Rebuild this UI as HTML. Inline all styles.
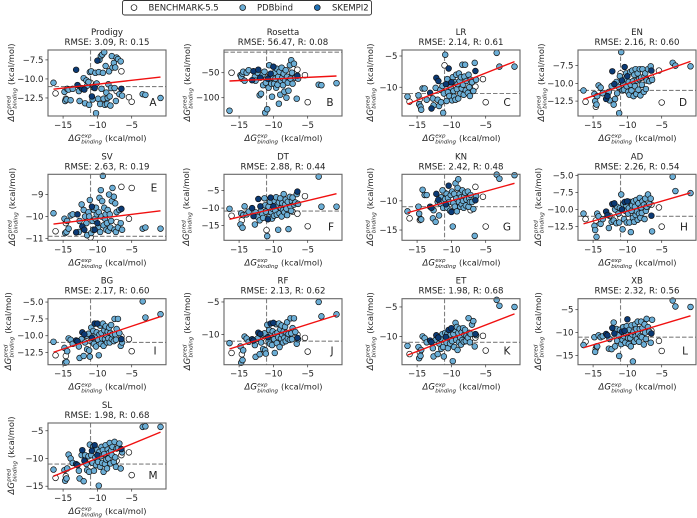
<!DOCTYPE html>
<html lang="en">
<head>
<meta charset="utf-8">
<title>Binding affinity predictors</title>
<style>
html,body{margin:0;padding:0;background:#fff;width:697px;height:518px;overflow:hidden}
svg{display:block;filter:blur(0.3px)}
text{font-family:"DejaVu Sans","Liberation Sans",sans-serif;fill:#222}
</style>
</head>
<body>
<svg id="fig" xmlns="http://www.w3.org/2000/svg" width="697" height="518" viewBox="0 0 697 518">
<g>
<rect x="122.5" y="0.5" width="249" height="14.5" rx="2" fill="#fff" stroke="#333" stroke-width="0.9"/>
<circle cx="134" cy="7.6" r="2.9" fill="#fff" stroke="#111" stroke-width="0.7"/>
<text x="148.5" y="10.6" font-size="8.5">BENCHMARK-5.5</text>
<circle cx="242.7" cy="7.6" r="2.9" fill="#6baed6" stroke="#111" stroke-width="0.7"/>
<text x="257" y="10.6" font-size="8.5">PDBbind</text>
<circle cx="317.3" cy="7.6" r="2.9" fill="#2171b5" stroke="#111" stroke-width="0.7"/>
<text x="332" y="10.6" font-size="8.5">SKEMPI2</text>
</g>
</svg>
<script>
// ---------- shared data: experimental binding energy and source database ----------
const experimental = [-16.4,-16.1,-14.8,-14.7,-14.6,-14.5,-14.4,-14.2,-13.9,-13.6,-13.1,-12.9,-12.7,-12.6,-12.3,-12.2,-12.0,-11.9,-11.8,-11.6,-11.5,-11.3,-11.2,-11.1,-11.0,-10.9,-10.8,-10.7,-10.6,-10.5,-10.4,-10.3,-10.2,-10.1,-10.0,-9.9,-9.8,-9.7,-9.6,-9.5,-9.4,-9.3,-9.2,-9.1,-9.0,-8.9,-8.8,-8.7,-8.6,-8.5,-8.4,-8.3,-8.2,-8.1,-8.0,-7.9,-7.8,-7.2,-7.6,-7.5,-7.4,-7.3,-7.2,-6.5,-7.0,-6.8,-6.6,-6.5,-6.4,-5.4,-5.0,-3.4,-3.0,-0.8];
const sources = ['P','B','P','P','B','P','P','P','P','P','S','S','P','P','P','S','P','S','P','P','P','P','P','P','B','P','S','P','P','P','S','P','P','P','S','P','P','P','P','P','P','P','P','P','P','P','P','P','P','P','P','P','P','P','P','P','P','B','P','P','P','P','P','B','P','P','P','S','P','B','B','P','P','P'];

// ---------- per-model predicted binding energy ----------
const predProdigy = [-10.5,-11.9,-11.7,-12.9,-12.6,-12.7,-11.3,-11.4,-12.8,-11.3,-8.8,-10.8,-11.6,-12.9,-11.2,-11.3,-9.9,-11.4,-13.2,-10.2,-10.9,-10.4,-13.4,-9.1,-10.5,-9.0,-12.3,-12.7,-11.1,-11.0,-11.2,-9.2,-14.5,-10.6,-7.6,-12.6,-9.1,-7.5,-13.3,-7.0,-11.3,-6.8,-9.2,-12.6,-6.5,-13.4,-8.3,-11.8,-13.3,-12.5,-10.7,-9.0,-12.3,-13.5,-11.2,-7.0,-8.5,-11.6,-7.9,-11.2,-8.5,-12.9,-7.2,-9.0,-7.4,-12.0,-7.7,-11.3,-12.2,-12.4,-13.0,-12.0,-12.1,-12.5];
const predRosetta = [-126,-50,-55,-58,-62,-52,-48,-66,-50,-45,-65,-47,-58,-66,-50,-44,-95,-60,-92,-55,-75,-48,-130,-70,-60,-123,-62,-80,-35,-56,-52,-72,-98,-60,-38,-72,-50,-62,-80,-42,-74,-58,-112,-48,-94,-66,-40,-60,-75,-52,-88,-65,-45,-100,-58,-70,-86,-42,-35,-62,-25,-50,-72,-44,-32,-60,-102,-56,-62,-55,-109,-74,-75,-71];
const predLR = [-11.5,-12.3,-11.3,-12.7,-11.9,-13.1,-13.6,-10.2,-10.2,-12.0,-10.9,-13.4,-11.8,-12.9,-10.1,-8.5,-12.0,-9.0,-13.0,-10.4,-12.4,-9.8,-14.1,-11.0,-6.5,-4.8,-9.5,-12.2,-8.7,-10.8,-7.0,-11.4,-9.6,-10.0,-9.2,-12.1,-8.4,-10.6,-11.5,-9.2,-12.0,-8.0,-10.3,-9.5,-11.8,-7.8,-9.0,-11.0,-8.4,-10.2,-6.4,-9.6,-11.2,-8.3,-6.4,-10.5,-9.0,-10.0,-10.9,-8.0,-10.0,-11.4,-8.8,-9.9,-9.2,-10.6,-6.1,-7.4,-8.8,-8.7,-12.4,-4.5,-6.7,-6.7];
const predEN = [-11,-12.6,-11.5,-12.5,-13.3,-13,-11.8,-10.3,-10.6,-11.4,-12.2,-11.8,-11.2,-12.4,-10.4,-8.3,-13,-10.1,-12.2,-9.8,-11.4,-10.5,-14.2,-9.0,-8.6,-5.6,-9.6,-11,-10,-10.9,-7.7,-9.4,-8.6,-10.4,-9,-11.2,-9.8,-11.6,-8.4,-10.2,-11,-8.2,-9.7,-11.8,-8.8,-10.4,-8.0,-11.5,-9.6,-8.6,-10.9,-9.4,-8.0,-11.7,-9.2,-10.2,-8.0,-9.5,-11.2,-9,-8.6,-10.8,-9.6,-9.2,-8.0,-9.7,-7.6,-8.2,-9.5,-8.2,-12.7,-7.1,-7.5,-7.6];
const predSV = [-9.85,-10.67,-10.1,-10.75,-10.3,-10.7,-10.2,-10.55,-9.95,-9.9,-10.72,-9.9,-10.7,-10.2,-9.45,-10.45,-9.7,-10.6,-10.0,-10.3,-10.85,-9.8,-10.0,-9.25,-10.95,-10.75,-9.55,-10.2,-10.6,-9.7,-10.6,-10.1,-9.6,-9.9,-10.3,-10.5,-9.8,-9.15,-10.7,-8.8,-10.0,-9.3,-8.15,-10.4,-9.6,-10.1,-9.9,-10.6,-10.3,-9.7,-10.65,-9.0,-9.9,-10.5,-10.2,-9.3,-8.7,-10.25,-9.1,-10.6,-9.4,-10.7,-9.8,-8.65,-10.5,-9.7,-10.3,-9.65,-10.6,-10.1,-8.7,-10.55,-10.5,-10.55];
const predDT = [-10.2,-12.2,-14.7,-11.5,-13.5,-15.6,-12,-9.5,-11.8,-11,-10,-12.3,-14.7,-11.2,-12.5,-7.4,-13.5,-9.5,-10.8,-11.8,-12.8,-7.2,-9.2,-11,-16.3,-18,-13.2,-9.6,-12.6,-8.2,-7,-11.2,-13,-10.2,-9.5,-12.2,-8,-10.8,-6.9,-11.9,-9,-16.2,-8.4,-11.5,-7.2,-10,-12.4,-8.6,-10.6,-6,-11.2,-9,-7.6,-10.2,-12,-8.2,-16,-11,-6.8,-9.6,-10.8,-8,-7,-11.6,-9,-8.4,-6,-5.3,-8.8,-6.6,-15.2,-1,-9.6,-9.6];
const predKN = [-11.8,-13,-11,-12.2,-13.3,-13.1,-13.2,-8.1,-9,-9,-11,-11.2,-13,-11.6,-13.6,-8.8,-10.2,-9.8,-12.5,-10.5,-9.4,-8.2,-11.2,-10,-8.6,-9.7,-10.6,-8.8,-11.2,-9.5,-7.4,-10.2,-11.7,-9,-11.9,-8.4,-14.4,-10.4,-8.8,-11,-7,-9.6,-11.8,-7.8,-6.3,-10.2,-8.8,-11,-9.4,-10.6,-8.2,-10,-11.2,-9.2,-8.6,-10.8,-9.8,-11.6,-8.4,-11,-9.6,-10.2,-9,-7.6,-10.2,-11.4,-16,-9.9,-9.2,-9.3,-14.4,-5.5,-6.2,-5.6];
const predAD = [-10.6,-11.4,-12.4,-13,-11.6,-14,-10.6,-11,-12.1,-11.4,-10.3,-10.8,-12.7,-10.9,-11.8,-9.2,-11.6,-9.1,-10,-12,-9.6,-10.6,-11.9,-9.8,-11.2,-7.8,-10,-12.9,-9.2,-11.4,-8.9,-10.2,-9.4,-11.9,-8.8,-10.6,-9.8,-11.9,-8.9,-13.3,-10.2,-9.4,-11.2,-8.8,-11.8,-9.6,-10.8,-8.6,-10.3,-11.5,-9.1,-10.6,-8.3,-11.2,-9.7,-10.5,-8.8,-9.8,-9.3,-11.4,-8.4,-10.2,-9.6,-9.3,-7.8,-9.2,-8.4,-10.9,-13.2,-9.7,-12.5,-5.2,-7.3,-7.6];
const predBG = [-10.9,-12.9,-11.8,-14,-13,-13.9,-12.3,-10.4,-10.6,-11.2,-10.7,-10.8,-11.6,-13.3,-10.5,-9.5,-13,-9.8,-11,-10,-12,-9.7,-12.2,-13.1,-10.8,-8.8,-10.3,-10.9,-9.3,-11.2,-8.2,-10,-11.6,-9.5,-8.2,-10.6,-12.9,-9.8,-8.5,-11.2,-9.6,-10.4,-8.2,-11.5,-9.2,-10.5,-8.6,-9.9,-11,-9.4,-10.4,-8.8,-11,-9.6,-8.4,-10.5,-9.8,-10.2,-10.8,-7.5,-9.8,-10.6,-9,-10.1,-7.5,-9.6,-11.5,-10.5,-11,-10.5,-12.3,-4.9,-7.3,-6.8];
const predRF = [-11.3,-12.8,-11.8,-14.3,-13,-13.9,-12.4,-10.3,-10.6,-11.1,-10.7,-10.9,-11.6,-13.4,-10.6,-9.7,-13,-9.9,-11.2,-10,-12.2,-9.8,-12.4,-12.9,-11,-8.5,-10.4,-11,-9.3,-11.4,-8.3,-10,-11.6,-9.5,-8.2,-10.7,-12.8,-9.9,-8.4,-11.3,-9.7,-10.4,-8.3,-11.9,-9.2,-10.6,-8.6,-10,-11.2,-9.5,-10.5,-8.8,-11,-9.7,-8.1,-10.6,-9.9,-10.3,-10.8,-7.5,-9.8,-10.7,-9,-10,-7.5,-9.6,-11.4,-10.5,-10.7,-10.5,-12.6,-5,-7.2,-6.9];
const predET = [-11.6,-13,-11.8,-13.7,-12.7,-13.3,-12.3,-10,-10.3,-11,-10.7,-11,-12,-13.4,-10.6,-9.8,-13,-10.2,-11.2,-10.4,-12.1,-9.6,-11.8,-13.4,-10.4,-9.4,-10.1,-11.1,-9.6,-12,-8.9,-10.3,-11.2,-9.7,-8.6,-10.8,-14.2,-9.6,-11.8,-8.9,-7.7,-10.6,-8.4,-12.3,-9.4,-11,-8.7,-10.2,-11.4,-9.3,-10.6,-8.6,-10.9,-9.7,-8.9,-10.8,-9.9,-10.4,-10.2,-6.9,-9.4,-11,-9.6,-10.2,-8,-7.4,-11.7,-9.6,-9.8,-9.9,-12.4,-3.8,-4.8,-5];
const predXB = [-12.7,-12,-11,-14.2,-13.5,-13,-13,-10.6,-11,-10.8,-10.3,-10.6,-13.5,-11.4,-13.6,-9,-7.8,-10.2,-13,-9.2,-11.8,-10.6,-15.1,-9.4,-10.5,-12.5,-9.8,-11.6,-8.8,-10.8,-9.6,-12.2,-10.2,-8.6,-7.1,-11.2,-12.5,-9.4,-11.2,-13,-8.4,-10.4,-16.3,-9.8,-12,-8.2,-10.8,-9.2,-11.4,-7.6,-10.3,-12,-9.2,-10.8,-7.6,-11,-9,-10.4,-12.6,-8.2,-10,-11.4,-7,-9.6,-8.8,-9.8,-12.2,-10.2,-7.2,-11.8,-14,-3,-4.3,-4.4];
const predSL = [-12,-13.5,-12.1,-14,-13.2,-13.6,-11.8,-9.3,-10,-10.8,-11,-11.2,-12.2,-13.6,-9.4,-8.5,-14.1,-10.4,-9.4,-11,-12.1,-9.6,-12.4,-7.5,-10.2,-9.4,-8.6,-10.8,-7.8,-12.2,-7.6,-9.8,-11.2,-8.4,-9.4,-10.6,-14.9,-8.8,-11.5,-9.6,-7.9,-10.8,-8.5,-12.4,-9.2,-11,-7.6,-10.2,-11.8,-8.4,-10,-9,-7.2,-10.9,-8.6,-9.4,-7.9,-10.4,-10.6,-7,-9.8,-11.5,-8.2,-9.4,-8.1,-7.3,-11.8,-8.3,-8.9,-8.9,-13,-4.3,-4.2,-4.3];

// ---------- per-panel printed values, fits and axis ranges ----------
const models = ['Prodigy','Rosetta','LR','EN','SV','DT','KN','AD','BG','RF','ET','XB','SL'];
const rmseValues = ['3.09','56.47','2.14','2.16','2.63','2.88','2.42','2.26','2.17','2.13','1.98','2.32','1.98'];
const rValues = ['0.15','0.08','0.61','0.60','0.19','0.44','0.48','0.54','0.60','0.62','0.68','0.56','0.68'];
const letters = ['A','B','C','D','E','F','G','H','I','J','K','L','M'];
const predictions = [predProdigy,predRosetta,predLR,predEN,predSV,predDT,predKN,predAD,predBG,predRF,predET,predXB,predSL];
const fitStart = [-11.35,-66.6,-12.7,-12.25,-10.34,-13.2,-12.04,-12.1,-12.45,-12.2,-13.17,-13.3,-13.2];
const fitEnd = [-9.75,-56.6,-5.9,-6.9,-9.74,-5.9,-7.0,-7.55,-7.15,-7.03,-6.18,-6.34,-5.24];
const yMax = [-6.2,-4.6,-4.04,-5.3,-8.08,-0.35,-5.45,-4.85,-4.5,-4.5,-3.6,-2.6,-3.6];
const yMin = [-14.87,-136.6,-14.6,-14.6,-11.08,-19.2,-16.76,-14.5,-14.3,-14.6,-14.8,-17,-15.5];
const yTicks = [[-7.5,-10,-12.5],[-50,-100],[-5,-10],[-7.5,-10,-12.5],[-9,-10,-11],[-5,-10,-15],[-10,-15],[-5,-7.5,-10,-12.5],[-5,-7.5,-10,-12.5],[-5,-10],[-5,-10],[-5,-10,-15],[-5,-10,-15]];
const yTickLabels = [['−7.5','−10.0','−12.5'],['−50','−100'],['−5','−10'],['−7.5','−10.0','−12.5'],['−9','−10','−11'],['−5','−10','−15'],['−10','−15'],['−5.0','−7.5','−10.0','−12.5'],['−5.0','−7.5','−10.0','−12.5'],['−5','−10'],['−5','−10'],['−5','−10','−15'],['−5','−10','−15']];
const refExperimental = [-11,-11,-11,-11,-11,-11,-11,-11,-11,-11,-11,-11,-11];
const refPredicted = [-11,-9,-11,-11,-10.9,-10.85,-11,-11,-11,-11,-11,-11,-11];
const xTicks = [-15,-10,-5];
const xTickLabels = ['−15','−10','−5'];
const xDomain = [-17.2,0];
const fitDomain = [-16.4,-0.8];

// ---------- layout (pixels) ----------
const SVGNS = 'http://www.w3.org/2000/svg';
const fig = document.getElementById('fig');
const lefts = [48,224,402,578];
const tops = [50,174.3,298.7,423];
const axW = 118, axH = 66;
const labelGap = [37,37,32,37,36,38,32,40,40,37,32,40,37];
const letterPos = [[105,52],[106,52],[105,52],[105,52],[106,13],[107,52],[105,52],[106,52],[107,52],[108,52],[105,52],[107,52],[105,52]];
const colors = {B:'#ffffff',P:'#6baed6',S:'#0b3a75'};
const drawOrder = ['B','P','S'];

function svgEl(tag, parent, attrs){
  const n = document.createElementNS(SVGNS, tag);
  for(const k in attrs) n.setAttribute(k, attrs[k]);
  parent.appendChild(n);
  return n;
}

function axisLabel(group, base, top){
  const a = svgEl('text', group, {x:-38.5,y:0,'font-size':8.5,'font-style':'italic'});
  a.textContent = 'ΔG';
  
  
  const s = svgEl('text', group, {x:-25.8,y:-3.4,'font-size':5.6,'font-style':'italic'});
  s.textContent = top;
  
  
  const b = svgEl('text', group, {x:-25.8,y:2.6,'font-size':5.6,'font-style':'italic'});
  b.textContent = 'binding';
  
  
  const u = svgEl('text', group, {x:-2,y:0,'font-size':8.3});
  u.textContent = '(kcal/mol)';
  
  
}

models.forEach(function(model, i){
  const left = lefts[i % 4], top = tops[Math.floor(i / 4)];
  const sx = function(v){ return left + (v - xDomain[0]) / (xDomain[1] - xDomain[0]) * axW; };
  const sy = function(v){ return top + (yMax[i] - v) / (yMax[i] - yMin[i]) * axH; };
  const slug = model.toLowerCase();

  const panel = svgEl('g', fig, {});
  
  

  const t1 = svgEl('text', panel, {x:left + axW / 2,y:top - 15,'font-size':8.6,'text-anchor':'middle'});
  t1.textContent = model;
  
  
  const t2 = svgEl('text', panel, {x:left + axW / 2,y:top - 5,'font-size':8.6,'text-anchor':'middle'});
  t2.textContent = 'RMSE: ' + rmseValues[i] + ', R: ' + rValues[i];
  
  

  const hl = svgEl('line', panel, {x1:left,x2:left + axW,y1:sy(refPredicted[i]),y2:sy(refPredicted[i]),stroke:'#808080','stroke-width':1.1,'stroke-dasharray':'4.5 2'});
  
  
  const vl = svgEl('line', panel, {x1:sx(refExperimental[i]),x2:sx(refExperimental[i]),y1:top,y2:top + axH,stroke:'#808080','stroke-width':1.1,'stroke-dasharray':'4.5 2'});
  
  

  drawOrder.forEach(function(group){
    experimental.forEach(function(x, k){
      if(sources[k] !== group) return;
      const c = svgEl('circle', panel, {cx:sx(x),cy:sy(predictions[i][k]),r:2.85,fill:colors[group],stroke:'#111','stroke-width':0.7});
      
      
    });
  });

  const fit = svgEl('line', panel, {x1:sx(fitDomain[0]),x2:sx(fitDomain[1]),y1:sy(fitStart[i]),y2:sy(fitEnd[i]),stroke:'#f01010','stroke-width':1.4});
  
  

  const frame = svgEl('rect', panel, {x:left,y:top,width:axW,height:axH,fill:'none',stroke:'#666','stroke-width':1.1});
  
  

  xTicks.forEach(function(v, k){
    const m = svgEl('line', panel, {x1:sx(v),x2:sx(v),y1:top + axH,y2:top + axH + 2.6,stroke:'#333','stroke-width':0.7});
    
    
    const l = svgEl('text', panel, {x:sx(v),y:top + axH + 12,'font-size':8.6,'text-anchor':'middle'});
    l.textContent = xTickLabels[k];
    
    
  });

  yTicks[i].forEach(function(v, k){
    const m = svgEl('line', panel, {x1:left - 2.6,x2:left,y1:sy(v),y2:sy(v),stroke:'#333','stroke-width':0.7});
    
    
    const l = svgEl('text', panel, {x:left - 4.5,y:sy(v) + 3,'font-size':8.6,'text-anchor':'end'});
    l.textContent = yTickLabels[i][k];
    
    
  });

  const xl = svgEl('g', panel, {transform:'translate(' + (left + axW / 2) + ',' + (top + axH + 25) + ')'});
  
  
  axisLabel(xl, 'x-axis-title', 'exp');

  const yl = svgEl('g', panel, {transform:'translate(' + (left - labelGap[i] + 3) + ',' + (top + axH / 2) + ') rotate(-90)'});
  
  
  axisLabel(yl, 'y-axis-title', 'pred');

  const tag = svgEl('text', panel, {x:left + letterPos[i][0],y:top + letterPos[i][1] + 4,'font-size':10.5,'text-anchor':'middle'});
  tag.textContent = letters[i];
  
  
});
</script>
</body>
</html>
